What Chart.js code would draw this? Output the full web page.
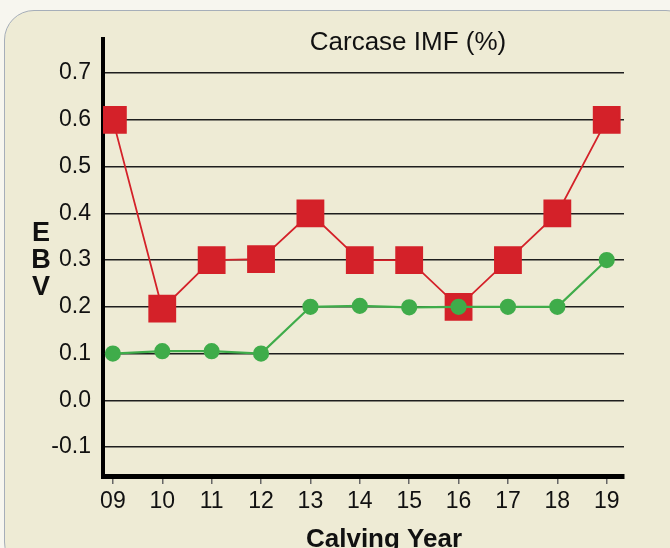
<!DOCTYPE html>
<html>
<head>
<meta charset="utf-8">
<script src="https://cdn.jsdelivr.net/npm/chart.js"></script>
<style>
  html, body { margin: 0; padding: 0; background: #f7f6ef; }
  #wrap { position: relative; width: 670px; height: 548px; overflow: hidden; }
  #panel {
    position: absolute; left: 4px; top: 10px; width: 690px; height: 560px;
    background: #eeebd5; border: 1.5px solid #a6aeb9; border-radius: 30px;
  }
  #chart { position: absolute; left: 0; top: 0; }
</style>
</head>
<body>
<div id="wrap">
  <div id="panel"></div>
  <canvas id="chart" width="670" height="548"></canvas>
</div>
<script>
// calving years shown on the x axis
const years = ['09', '10', '11', '12', '13', '14', '15', '16', '17', '18', '19'];
// red squares
const redSeries = [0.6, 0.196, 0.3, 0.302, 0.4, 0.3, 0.3, 0.2, 0.3, 0.4, 0.6];
// green dots
const greenSeries = [0.1, 0.105, 0.105, 0.1, 0.2, 0.202, 0.199, 0.2, 0.2, 0.2, 0.3];
// y tick values
const yTicks = [-0.1, 0.0, 0.1, 0.2, 0.3, 0.4, 0.5, 0.6, 0.7];

const chartTitle = 'Carcase IMF (%)';
const yTitle = ['E', 'B', 'V'];
const xTitle = 'Calving Year';

const toPoints = arr => arr.map((v, i) => ({x: i, y: v}));

// titles are drawn by hand since they sit inside the plot / stacked
const titlesPlugin = {
  id: 'titles',
  afterDraw(chart) {
    const ctx = chart.ctx;
    ctx.save();
    ctx.fillStyle = '#111';
    ctx.textAlign = 'center';
    ctx.textBaseline = 'alphabetic';
    ctx.font = '26px "Liberation Sans", Arial, sans-serif';
    ctx.fillText(chartTitle, 408, 50);

    ctx.font = 'bold 27px "Liberation Sans", Arial, sans-serif';
    ctx.textBaseline = 'middle';
    yTitle.forEach((ch, i) => ctx.fillText(ch, 41, 234 + i * 27));

    ctx.font = 'bold 26px "Liberation Sans", Arial, sans-serif';
    ctx.textBaseline = 'alphabetic';
    ctx.fillText(xTitle, 384, 547);
    ctx.restore();
  }
};

new Chart(document.getElementById('chart'), {
  type: 'line',
  data: {
    datasets: [
      {
        label: 'Green',
        data: toPoints(greenSeries),
        borderColor: '#3fac4a',
        backgroundColor: '#3fac4a',
        borderWidth: 2.2,
        pointStyle: 'circle',
        pointRadius: 7,
        pointHoverRadius: 7,
        tension: 0
      },
      {
        label: 'Red',
        data: toPoints(redSeries),
        borderColor: '#d42129',
        backgroundColor: '#d42129',
        borderWidth: 1.8,
        pointStyle: 'rect',
        pointRadius: 18.4,
        pointHoverRadius: 18.4,
        tension: 0
      }
    ]
  },
  options: {
    responsive: false,
    animation: false,
    layout: { padding: { left: 0, top: 39, right: 46, bottom: 0 } },
    plugins: {
      legend: { display: false },
      title: { display: false },
      tooltip: { enabled: false }
    },
    scales: {
      x: {
        type: 'linear',
        min: -0.2,
        max: 10.35,
        afterBuildTicks: scale => { scale.ticks = years.map((_, i) => ({value: i})); },
        afterFit: scale => { scale.height = 72; },
        border: { display: true, color: '#000', width: 5 },
        grid: { drawOnChartArea: false, drawTicks: true, tickLength: 8, tickColor: '#666', lineWidth: 1.5 },
        ticks: {
          color: '#111',
          padding: 4,
          maxRotation: 0,
          font: { family: '"Liberation Sans", Arial, sans-serif', size: 23 },
          callback: v => years[v]
        }
      },
      y: {
        min: -0.162,
        max: 0.773,
        afterBuildTicks: scale => { scale.ticks = yTicks.map(v => ({value: v})); },
        afterFit: scale => { scale.width = 103; },
        border: { display: true, color: '#000', width: 4 },
        grid: { color: '#1e1e1e', lineWidth: 1.5, drawTicks: false },
        ticks: {
          color: '#111',
          padding: 12,
          font: { family: '"Liberation Sans", Arial, sans-serif', size: 23 },
          callback: v => v.toFixed(1)
        }
      }
    }
  },
  plugins: [titlesPlugin]
});
</script>
</body>
</html>
